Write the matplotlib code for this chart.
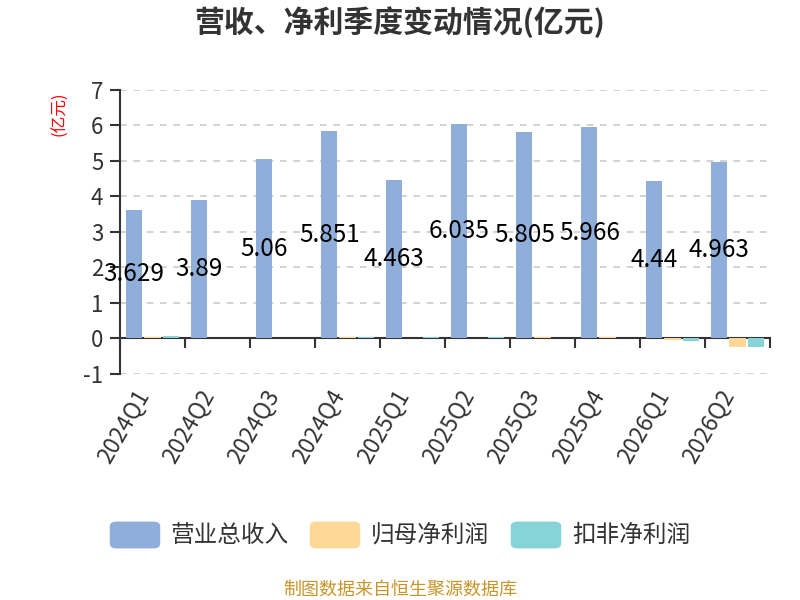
import matplotlib
matplotlib.use("Agg")
import matplotlib.pyplot as plt
import matplotlib.transforms as mtransforms
from matplotlib.patches import FancyBboxPatch
import numpy as np

plt.rcParams['font.family'] = ['Noto Sans CJK SC', 'DejaVu Sans']

quarters = ["2024Q1", "2024Q2", "2024Q3", "2024Q4", "2025Q1",
            "2025Q2", "2025Q3", "2025Q4", "2026Q1", "2026Q2"]
revenue    = [3.629, 3.89, 5.06, 5.851, 4.463, 6.035, 5.805, 5.966, 4.44, 4.963]
net_profit = [0.03, 0.01, 0.01, 0.03, 0.02, 0.02, 0.03, 0.03, -0.05, -0.25]
deducted   = [0.07, 0.02, 0.005, 0.04, 0.03, 0.04, 0.01, 0.01, -0.07, -0.24]

series_names  = ["营业总收入", "归母净利润", "扣非净利润"]
series_colors = ["#8FAEDA", "#FFD897", "#86D4D8"]
y_ticks = list(range(-1, 8))

fig = plt.figure(figsize=(8, 6), dpi=100)
ax = fig.add_axes([0.15, 0.3767, 0.8125, 0.4733])

x = np.arange(len(quarters))
step, width = 0.28, 0.25
for i, (vals, col) in enumerate(zip([revenue, net_profit, deducted], series_colors)):
    # bars above the zero line so tiny values stay visible
    ax.bar(x + (i - 1) * step, vals, width=width, color=col, zorder=6)

for xi, v in zip(x, revenue):
    ax.text(xi - step, v / 2, f"{v:g}", ha='center', va='center',
            fontsize=17.5, color='black', zorder=7)

ax.set_xlim(-0.5, len(quarters) - 0.5)
ax.set_ylim(-1, 7)
ax.set_yticks(y_ticks)
ax.set_yticklabels([str(t) for t in y_ticks], fontsize=16, color='#333333')
for t in y_ticks:
    if t != 0:
        ax.axhline(t, color='#cccccc', lw=1.2, ls=(0, (4, 4)), zorder=1)

for s in ['top', 'right']:
    ax.spines[s].set_visible(False)
ax.spines['left'].set_color('#333333')
ax.spines['left'].set_linewidth(1.5)
ax.spines['bottom'].set_position(('data', 0))
ax.spines['bottom'].set_color('#333333')
ax.spines['bottom'].set_linewidth(1.5)
ax.spines['bottom'].set_zorder(4)
ax.tick_params(axis='y', length=7, width=1.5, color='#333333', pad=5)

ax.set_xticks(np.arange(len(quarters) + 1) - 0.5)
ax.set_xticklabels([])
ax.tick_params(axis='x', length=7, width=1.5, color='#333333', direction='out')

trans = mtransforms.blended_transform_factory(ax.transData, fig.transFigure)
for xi, q in zip(x, quarters):
    ax.text(xi + 0.02, 1 - 386 / 600, q, rotation=60, ha='right', va='top',
            fontsize=16.5, color='#333333', transform=trans)

fig.text(60 / 800, 1 - 92 / 600, "(亿元)", rotation=90, ha='center', va='top',
         fontsize=12, color='red')

fig.text(0.5, 1 - 22 / 600, "营收、净利季度变动情况(亿元)", ha='center', va='center',
         fontsize=21.5, fontweight='bold', color='#333333')

# legend
legend_x = [110, 310, 511]
for lx, name, col in zip(legend_x, series_names, series_colors):
    box = FancyBboxPatch(((lx + 3) / 800, 1 - 546 / 600), 44 / 800, 22 / 600,
                         boxstyle="round,pad=0.004,rounding_size=0.008",
                         transform=fig.transFigure, facecolor=col, edgecolor='none')
    fig.patches.append(box)
    fig.text((lx + 61) / 800, 1 - 535 / 600, name, ha='left', va='center',
             fontsize=17, color='#333333')

fig.text(0.5, 1 - 590 / 600, "制图数据来自恒生聚源数据库", ha='center', va='center',
         fontsize=13, color='#C8952A')

fig.savefig("out.png", dpi=100)
